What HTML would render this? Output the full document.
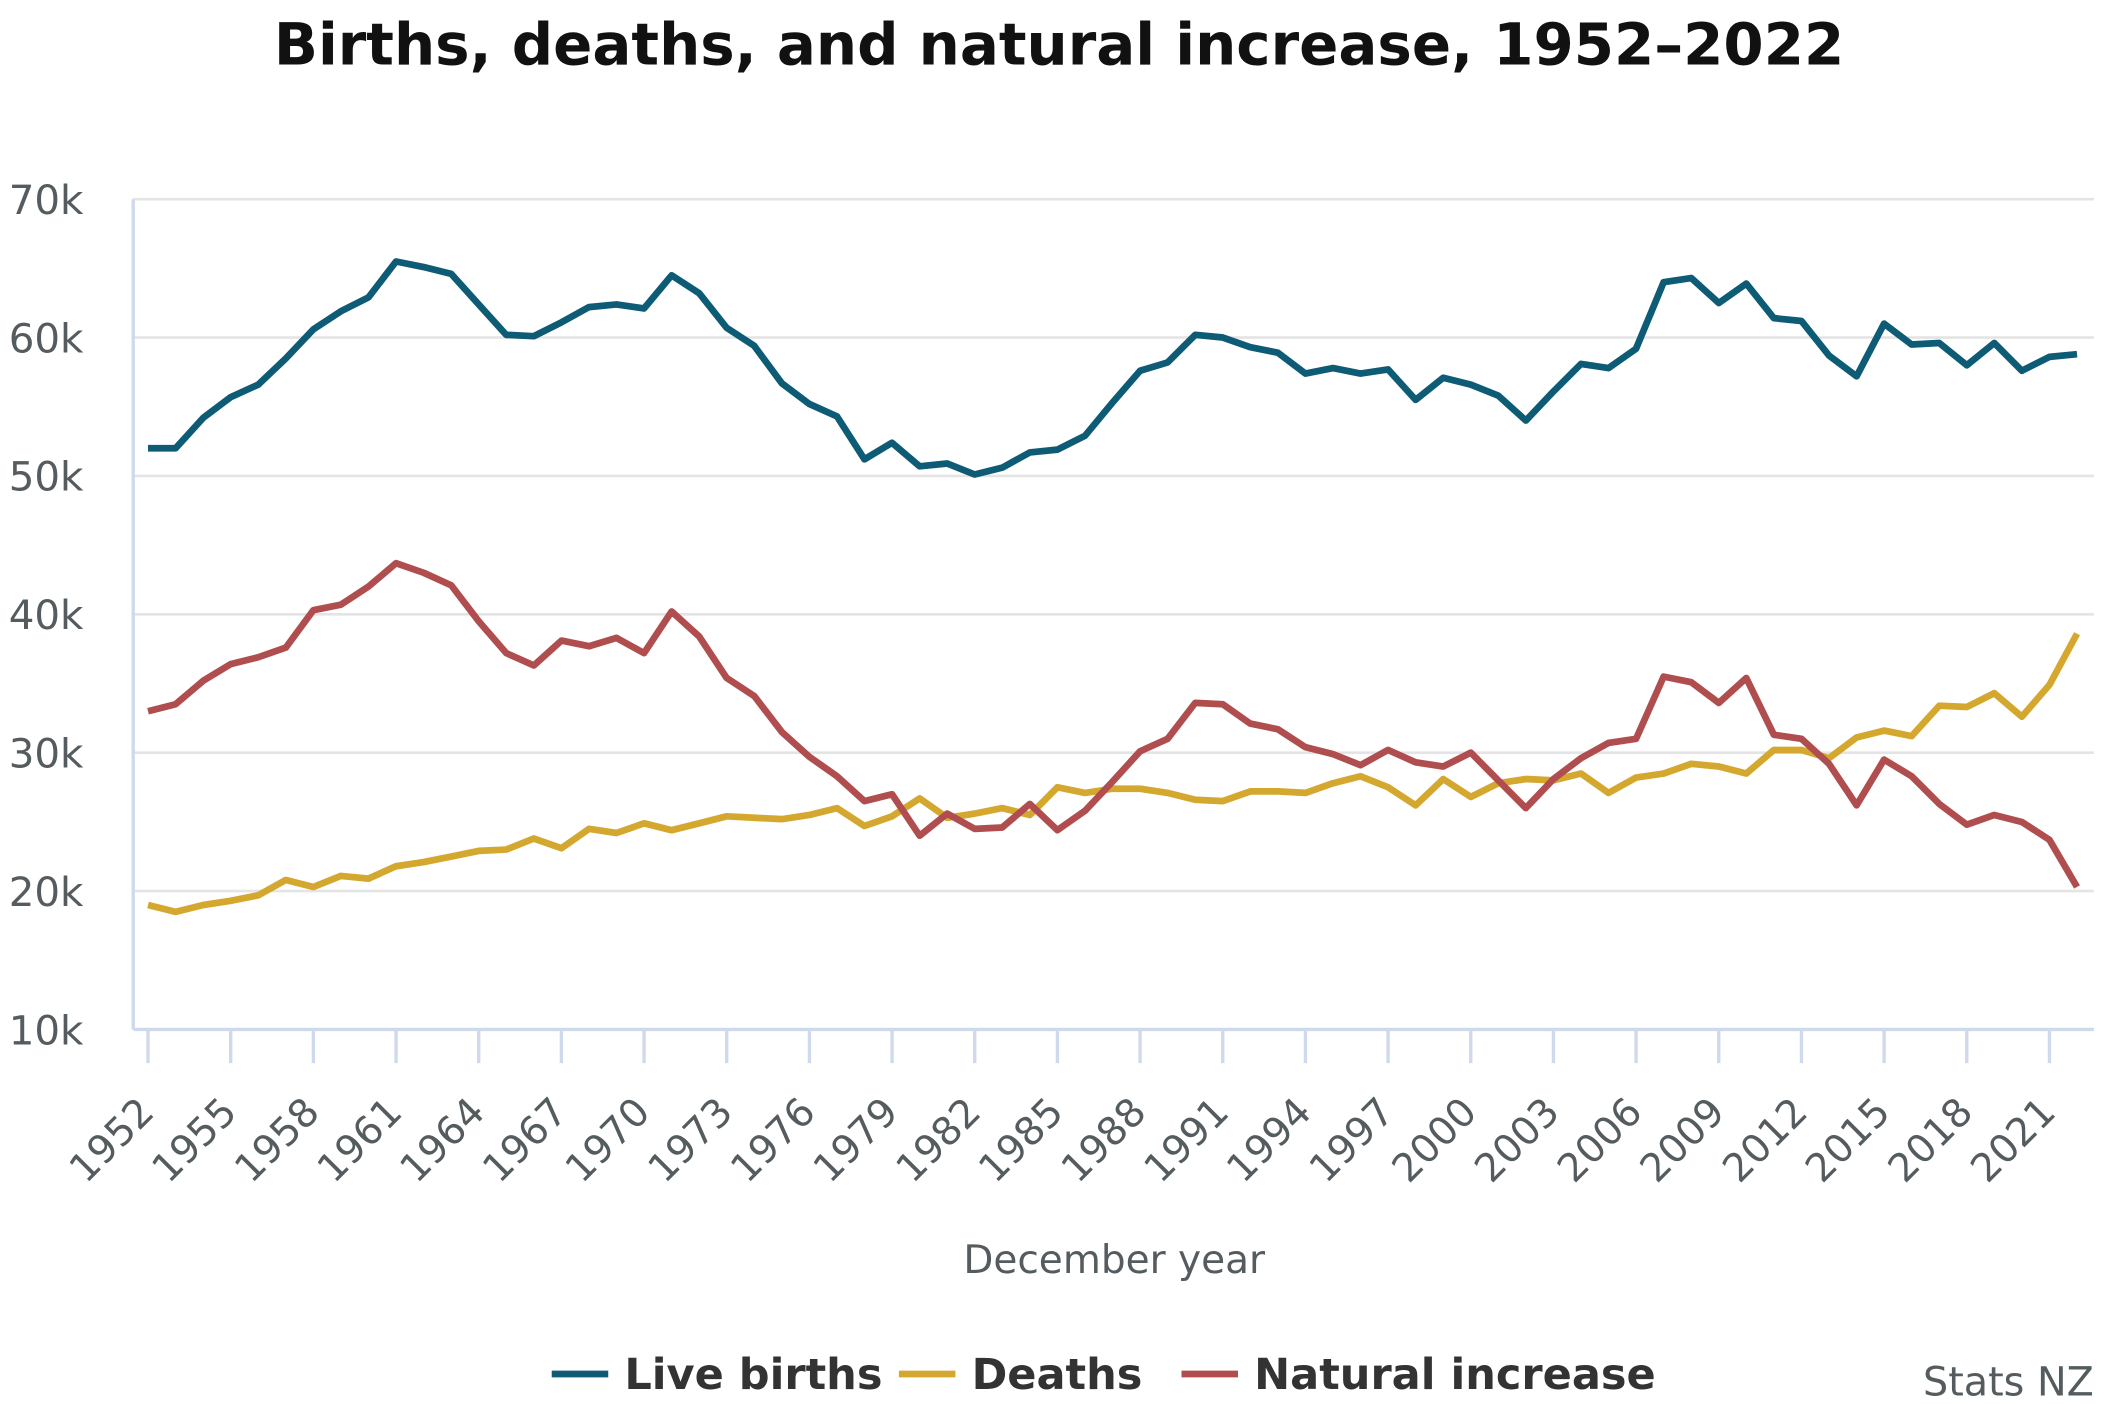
<!DOCTYPE html>
<html><head><meta charset="utf-8"><style>
html,body{margin:0;padding:0;background:#fff;}
svg{display:block;font-family:"DejaVu Sans","Liberation Sans",sans-serif;}
</style></head><body>
<svg id="chart" width="2110" height="1404" viewBox="0 0 1568 1043.3" xmlns="http://www.w3.org/2000/svg">
<text x="787" y="48" text-anchor="middle" font-size="43" font-weight="bold" fill="#111">Births, deaths, and natural increase, 1952–2022</text>
<g id="grid"></g>
<g id="axes"></g>
<g id="series"></g>
<text x="828" y="946" text-anchor="middle" font-size="29" fill="#555c60">December year</text>
<g>
<line x1="410" y1="1021" x2="452" y2="1021" stroke="#0d5b74" stroke-width="5"/>
<text x="464" y="1032" font-size="32" font-weight="bold" fill="#333">Live births</text>
<line x1="668" y1="1021" x2="710" y2="1021" stroke="#d4a82e" stroke-width="5"/>
<text x="722" y="1032" font-size="32" font-weight="bold" fill="#333">Deaths</text>
<line x1="878" y1="1021" x2="920" y2="1021" stroke="#b04e4f" stroke-width="5"/>
<text x="932" y="1032" font-size="32" font-weight="bold" fill="#333">Natural increase</text>
</g>
<text x="1556" y="1037" text-anchor="end" font-size="29.5" fill="#555c60">Stats NZ</text>
</svg>
<script>
const years = [];
for (let y = 1952; y <= 2022; y++) years.push(y);
const liveBirths = [52.0,52.0,54.2,55.7,56.6,58.5,60.6,61.9,62.9,65.5,65.1,64.6,62.4,60.2,60.1,61.1,62.2,62.4,62.1,64.5,63.2,60.7,59.4,56.7,55.2,54.3,51.2,52.4,50.7,50.9,50.1,50.6,51.7,51.9,52.9,55.3,57.6,58.2,60.2,60.0,59.3,58.9,57.4,57.8,57.4,57.7,55.5,57.1,56.6,55.8,54.0,56.1,58.1,57.8,59.2,64.0,64.3,62.5,63.9,61.4,61.2,58.7,57.2,61.0,59.5,59.6,58.0,59.6,57.6,58.6,58.8];
const deaths = [19.0,18.5,19.0,19.3,19.7,20.8,20.3,21.1,20.9,21.8,22.1,22.5,22.9,23.0,23.8,23.1,24.5,24.2,24.9,24.4,24.9,25.4,25.3,25.2,25.5,26.0,24.7,25.4,26.7,25.3,25.6,26.0,25.5,27.5,27.1,27.4,27.4,27.1,26.6,26.5,27.2,27.2,27.1,27.8,28.3,27.5,26.2,28.1,26.8,27.8,28.1,28.0,28.5,27.1,28.2,28.5,29.2,29.0,28.5,30.2,30.2,29.6,31.1,31.6,31.2,33.4,33.3,34.3,32.6,34.9,38.6];
const naturalIncrease = [33.0,33.5,35.2,36.4,36.9,37.6,40.3,40.7,42.0,43.7,43.0,42.1,39.5,37.2,36.3,38.1,37.7,38.3,37.2,40.2,38.4,35.4,34.1,31.5,29.7,28.3,26.5,27.0,24.0,25.6,24.5,24.6,26.3,24.4,25.8,27.9,30.1,31.0,33.6,33.5,32.1,31.7,30.4,29.9,29.1,30.2,29.3,29.0,30.0,28.0,26.0,28.1,29.6,30.7,31.0,35.5,35.1,33.6,35.4,31.3,31.0,29.2,26.2,29.5,28.3,26.3,24.8,25.5,25.0,23.7,20.3];
const yTicks = [10,20,30,40,50,60,70];
const yTickLabels = ["10k","20k","30k","40k","50k","60k","70k"];
const xTickYears = [1952,1955,1958,1961,1964,1967,1970,1973,1976,1979,1982,1985,1988,1991,1994,1997,2000,2003,2006,2009,2012,2015,2018,2021];

const NS = "http://www.w3.org/2000/svg";
const xs = y => 110 + (y - 1952) * (1523 - 110) / 69;
const ys = v => 765 - (v - 10) * (765 - 148) / 60;
function mk(tag, attrs, parent) {
  const e = document.createElementNS(NS, tag);
  for (const k in attrs) e.setAttribute(k, attrs[k]);
  parent.appendChild(e);
  return e;
}
const grid = document.getElementById('grid');
const axes = document.getElementById('axes');
const series = document.getElementById('series');
yTicks.forEach((t, i) => {
  if (t > 10) {
    const l = mk('line', {x1: 99, x2: 1556, y1: ys(t), y2: ys(t), stroke: '#e4e4e4', 'stroke-width': 2}, grid);
    
    
  }
  const tx = mk('text', {x: 62, y: ys(t) + 11, 'text-anchor': 'end', 'font-size': 30, fill: '#555c60'}, axes);
  tx.textContent = yTickLabels[i];
  
  
});
const ya = mk('line', {x1: 99, x2: 99, y1: 148, y2: 765, stroke: '#cfd9ec', 'stroke-width': 2.5}, axes);


const xa = mk('line', {x1: 99, x2: 1556, y1: 765, y2: 765, stroke: '#cfd9ec', 'stroke-width': 2.5}, axes);


xTickYears.forEach(yr => {
  const x = xs(yr);
  const tk = mk('line', {x1: x, x2: x, y1: 765, y2: 790, stroke: '#cfd9ec', 'stroke-width': 2.5}, axes);
  
  
  const tx = mk('text', {x: x + 6, y: 828, 'text-anchor': 'end', 'font-size': 29, fill: '#555c60', transform: `rotate(-45 ${x + 6} 828)`}, axes);
  tx.textContent = yr;
  
  
});
function line(vals, color, name) {
  const d = vals.map((v, i) => (i ? 'L' : 'M') + xs(years[i]).toFixed(1) + ',' + ys(v).toFixed(1)).join('');
  const p = mk('path', {d: d, fill: 'none', stroke: color, 'stroke-width': 5, 'stroke-linejoin': 'round'}, series);
  
  
}
line(deaths, '#d4a82e', 'deaths-line');
line(naturalIncrease, '#b04e4f', 'natural-increase-line');
line(liveBirths, '#0d5b74', 'live-births-line');
</script>
</body></html>
